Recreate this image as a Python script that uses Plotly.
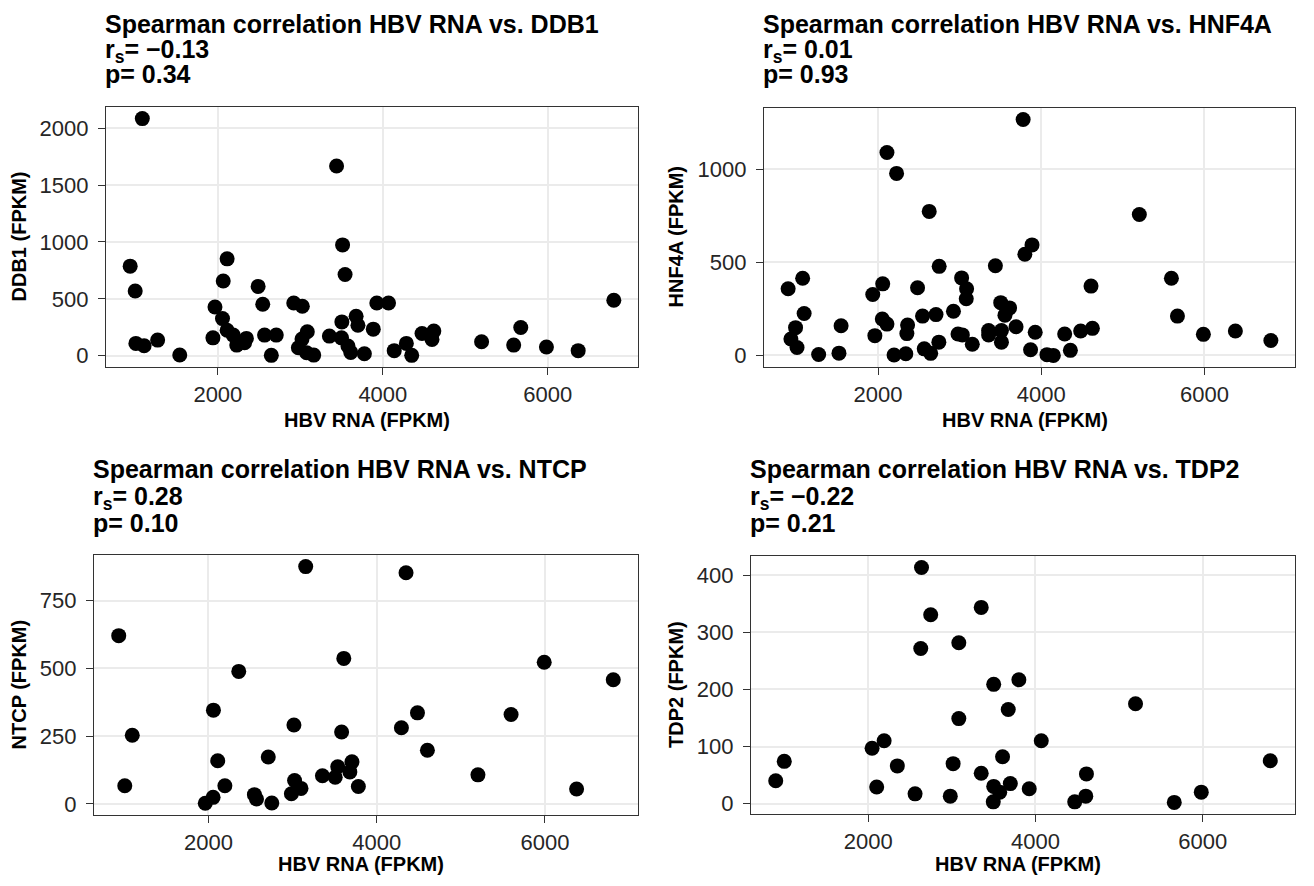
import plotly.graph_objects as go

# ---------------- data ----------------
ddb1_x = [1084, 3439, 937, 998, 1006, 1106, 1270, 1538, 2112, 2065, 1965, 2056, 1940, 2112, 2186,
          2229, 2346, 2324, 2488, 2544, 2566, 2708, 2648, 2920, 3024, 3084, 3020, 2976, 3076, 3162,
          3352, 3503, 3512, 3542, 3499, 3577, 3611, 3676, 3698, 3776, 3884, 3927, 4069, 4138, 4285,
          4350, 4475, 4618, 4596, 5197, 5586, 5672, 5983, 6368, 6800]
ddb1_y = [2084, 1667, 787, 568, 108, 87, 137, 6, 851, 656, 428, 326, 157, 224, 181,
          93, 152, 114, 609, 452, 181, 181, 3, 463, 434, 210, 146, 70, 26, 5,
          172, 297, 974, 714, 157, 85, 29, 347, 268, 17, 233, 463, 463, 44, 108,
          3, 195, 216, 143, 122, 93, 248, 76, 44, 487]

hnf4a_x = [3778, 2109, 2227, 2627, 5202, 3887, 3799, 2749, 3438, 1076, 898, 5595, 4610, 2057, 1935,
           2484, 3024, 3085, 3081, 1094, 5669, 3503, 3612, 3555, 2924, 2545, 2710, 2052, 2109, 2362,
           2353, 1547, 989, 932, 1007, 1272, 1521, 1961, 2196, 2340, 2566, 2645, 2745, 2980, 3033,
           3155, 3355, 3355, 3512, 3512, 3691, 3926, 3869, 4070, 4148, 4287, 4357, 4483, 4627, 5987,
           6379, 6814]
hnf4a_y = [1266, 1089, 977, 773, 756, 593, 543, 478, 481, 414, 358, 414, 372, 384, 327,
           363, 416, 358, 304, 225, 211, 283, 255, 216, 237, 211, 219, 195, 168, 163,
           117, 159, 149, 88, 42, 5, 12, 106, 2, 9, 35, 11, 71, 115, 110,
           60, 133, 110, 133, 71, 154, 124, 30, 4, 0, 115, 27, 131, 145, 113,
           131, 80]

ntcp_x = [3156, 4349, 933, 3609, 5992, 2360, 6813, 2059, 4485, 5598, 3016, 4294, 3583, 1094, 4603,
          2711, 2110, 3706, 3537, 3681, 3355, 3507, 5204, 1005, 2195, 3024, 3100, 2986, 3782, 6377,
          2546, 2571, 2055, 1962, 2753]
ntcp_y = [876, 853, 621, 537, 523, 489, 458, 346, 336, 330, 291, 281, 265, 253, 198,
          173, 159, 155, 137, 118, 104, 98, 107, 67, 67, 86, 57, 37, 64, 55,
          34, 18, 24, 2, 3]

tdp2_x = [2638, 3352, 2748, 2629, 3084, 3802, 3501, 5197, 3675, 3084, 4070, 2191, 2047, 997, 6808,
          3607, 2349, 3016, 3352, 4610, 895, 2102, 3700, 3501, 3926, 3573, 2561, 2982, 5983, 4602,
          4470, 3496, 5660]
tdp2_y = [414, 344, 331, 272, 282, 217, 209, 175, 165, 149, 110, 110, 97, 74, 75,
          82, 66, 70, 53, 52, 40, 29, 35, 30, 26, 20, 17, 13, 20, 13,
          3, 3, 2]

genes = ["DDB1", "HNF4A", "NTCP", "TDP2"]
rs_vals = ["\u22120.13", "0.01", "0.28", "\u22120.22"]
p_vals = ["0.34", "0.93", "0.10", "0.21"]
x_ticks = [2000, 4000, 6000]
y_ticks = [[0, 500, 1000, 1500, 2000], [0, 500, 1000], [0, 250, 500, 750], [0, 100, 200, 300, 400]]
x_title = "HBV RNA (FPKM)"

xs = [ddb1_x, hnf4a_x, ntcp_x, tdp2_x]
ys = [ddb1_y, hnf4a_y, ntcp_y, tdp2_y]

# ---------------- layout geometry (page pixels) ----------------
PAGE_PAD = 8            # default body margin of the html page
W, H = 1314 - 2 * PAGE_PAD, 886 - 2 * PAGE_PAD


def fx(px):
    return (px - PAGE_PAD) / W


def fy(py):
    return 1 - (py - PAGE_PAD) / H


panels = [  # left, right, top, bottom
    (106, 638, 107, 368),
    (764, 1295, 108, 368),
    (94, 638, 556, 817),
    (751, 1295, 557, 816),
]
TITLE_FS = 25
title_baselines = [(32, 57, 82), (32, 57, 82), (478, 505, 532), (478, 505, 532)]
ytitle_x = [18.5, 676, 18.5, 676]
xtitle_y = [421, 421, 866, 866]

FONT = "Liberation Sans, Arial, Helvetica, sans-serif"


def expand(vals):
    lo, hi = min(vals), max(vals)
    d = (hi - lo) * 0.05
    return [lo - d, hi + d]


fig = go.Figure()
annotations = []
layout = {}
for i in range(4):
    n = "" if i == 0 else str(i + 1)
    xa, ya = "x" + n, "y" + n
    fig.add_trace(go.Scatter(
        x=xs[i], y=ys[i], mode="markers", xaxis=xa, yaxis=ya,
        marker=dict(color="black", size=15, line=dict(width=0)),
        showlegend=False, hoverinfo="x+y"))
    l, r, t, b = panels[i]
    axis_common = dict(
        showline=True, mirror=True, linecolor="#333333", linewidth=1.3,
        ticks="outside", ticklen=7, tickwidth=1.3, tickcolor="#333333",
        showgrid=True, gridcolor="#EBEBEB", gridwidth=1.5, zeroline=False,
        tickfont=dict(family=FONT, size=22, color="#262626"),
    )
    layout["xaxis" + n] = dict(
        domain=[fx(l), fx(r)], anchor=ya, range=expand(xs[i]),
        tickvals=x_ticks, ticktext=[str(v) for v in x_ticks], ticklabelstandoff=0,
        **axis_common)
    layout["yaxis" + n] = dict(
        domain=[fy(b), fy(t)], anchor=xa, range=expand(ys[i]),
        tickvals=y_ticks[i], ticktext=[str(v) for v in y_ticks[i]], ticklabelstandoff=5,
        **axis_common)

    lines = [
        "<b>Spearman correlation HBV RNA vs. %s</b>" % genes[i],
        "<b>r<sub>s</sub>= %s</b>" % rs_vals[i],
        "<b>p= %s</b>" % p_vals[i],
    ]
    for txt, base in zip(lines, title_baselines[i]):
        top = base - 0.905 * TITLE_FS
        annotations.append(dict(
            text=txt, xref="paper", yref="paper", x=fx(l - 2), y=fy(top),
            xanchor="left", yanchor="top", showarrow=False, borderpad=0,
            font=dict(family=FONT, size=TITLE_FS, color="black")))
    annotations.append(dict(
        text="<b>%s</b>" % x_title, xref="paper", yref="paper",
        x=fx((l + r) / 2 - 5), y=fy(xtitle_y[i]), xanchor="center", yanchor="middle",
        showarrow=False, font=dict(family=FONT, size=20, color="black")))
    annotations.append(dict(
        text="<b>%s (FPKM)</b>" % genes[i], xref="paper", yref="paper",
        x=fx(ytitle_x[i]), y=fy((t + b) / 2), xanchor="center", yanchor="middle",
        textangle=-90, showarrow=False, font=dict(family=FONT, size=20, color="black")))

fig.update_layout(
    width=W, height=H, autosize=False,
    margin=dict(l=0, r=0, t=0, b=0),
    paper_bgcolor="white", plot_bgcolor="white",
    annotations=annotations, **layout)

fig.write_html("out.html")
